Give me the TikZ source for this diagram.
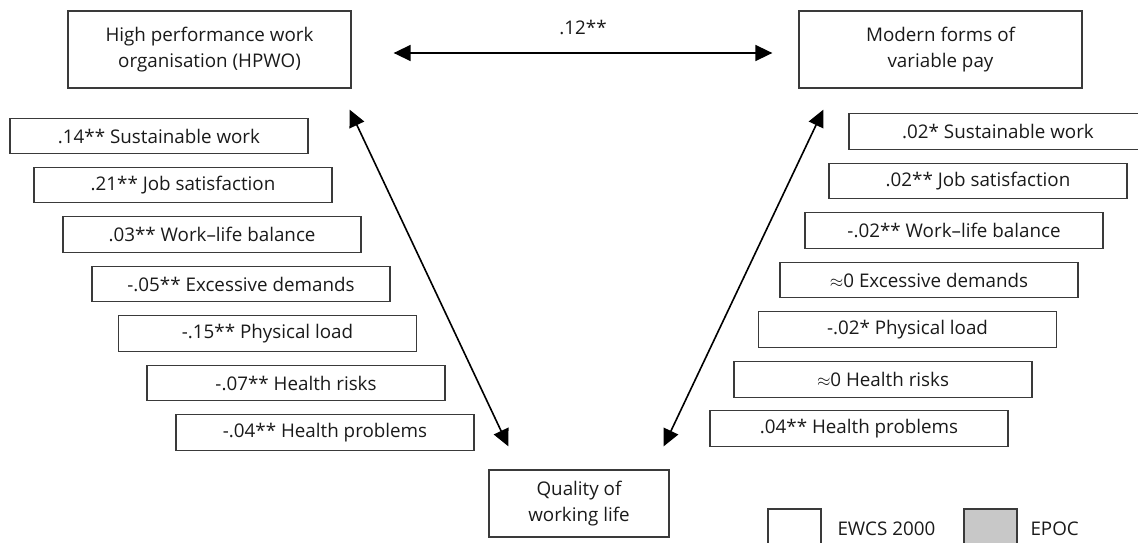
\documentclass[tikz,border=0pt]{standalone}
\usepackage{fontspec}
\setmainfont{Open Sans}
\usetikzlibrary{arrows.meta}
\definecolor{ink}{HTML}{1A1A1A}
\definecolor{edge}{HTML}{3A3A3A}
\definecolor{epocgray}{HTML}{C8C8C8}
\begin{document}
\begin{tikzpicture}[x=1pt,y=-1pt,
  every node/.style={font=\fontsize{18.8}{26.5}\selectfont, text=ink},
  mainbox/.style={draw=edge, line width=1.3pt, minimum width=283pt, minimum height=77pt, align=center, inner sep=0pt},
  qbox/.style={draw=edge, line width=1.3pt, minimum width=180pt, minimum height=67pt, align=center, inner sep=0pt},
  itembox/.style={draw=edge, line width=1.3pt, minimum width=298pt, minimum height=35.5pt, inner sep=0pt},
  legbox/.style={draw=edge, line width=1.3pt, minimum width=53pt, minimum height=50pt, inner sep=0pt},
  link/.style={draw=black, line width=1.6pt, {Triangle[length=17pt,width=16pt]}-{Triangle[length=17pt,width=16pt]}}
]
\clip (0,0) rectangle (1138,543);

% construct boxes
\node[mainbox] (hpwo) at (209.5,49.5) {High performance work\\organisation (HPWO)};
\node[mainbox] (pay) at (940.5,49.5) {Modern forms of\\variable pay};
\node[qbox] (qwl) at (579,503.5) {Quality of\\working life};

% correlations with HPWO
\node[itembox] (l1) at (159,136) {.14** Sustainable work};
\node[itembox] (l2) at (183,185) {.21** Job satisfaction};
\node[itembox] (l3) at (212,234.5) {.03** Work--life balance};
\node[itembox] (l4) at (241,284) {-.05** Excessive demands};
\node[itembox] (l5) at (267.5,333.5) {-.15** Physical load};
\node[itembox] (l6) at (296,383) {-.07** Health risks};
\node[itembox] (l7) at (325,432.5) {-.04** Health problems};

% correlations with variable pay
\node[itembox] (r1) at (998,131.5) {.02* Sustainable work};
\node[itembox] (r2) at (978,181) {.02** Job satisfaction};
\node[itembox] (r3) at (954,230.5) {-.02** Work--life balance};
\node[itembox] (r4) at (929,280) {$\approx$0 Excessive demands};
\node[itembox] (r5) at (907.5,329.5) {-.02* Physical load};
\node[itembox] (r6) at (883,379.5) {$\approx$0 Health risks};
\node[itembox] (r7) at (859,428.5) {.04** Health problems};

% connectors
\draw[link] ([shift={(42,3.5)}]hpwo.east) -- ([shift={(-26,3.5)}]pay.west)
  node[midway, above=14pt] (corr) {.12**};
\draw[link] ([shift={(-2,21)}]hpwo.south east) -- ([shift={(20,-23)}]qwl.north west);
\draw[link] ([shift={(25,21)}]pay.south west) -- ([shift={(-6,-23)}]qwl.north east);

% legend
\node[legbox] (ewcs) at (794.5,534) {};
\node[anchor=west] (ewcst) at (834,529) {EWCS 2000};
\node[legbox, fill=epocgray] (epoc) at (990.5,534) {};
\node[anchor=west] (epoct) at (1027,529) {EPOC};
\end{tikzpicture}
\end{document}
